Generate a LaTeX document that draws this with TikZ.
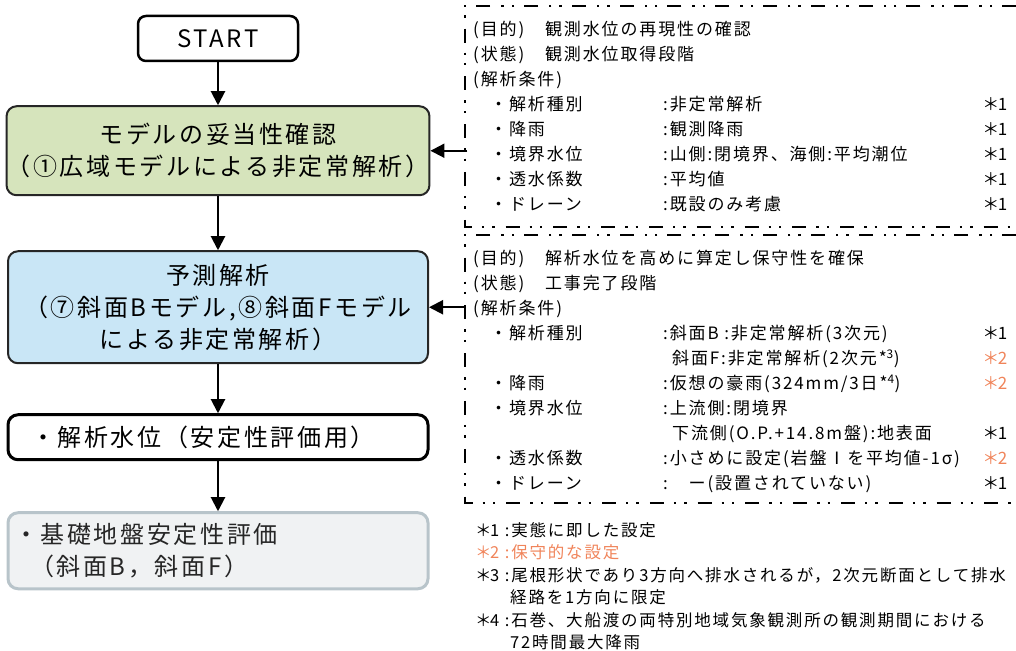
\documentclass[tikz,border=0pt]{standalone}
\usepackage{fontspec}
\setmainfont{Noto Sans CJK JP}[LetterSpace=11]
\usetikzlibrary{positioning,arrows.meta}
\definecolor{fcgreenL}{HTML}{D6E4BC}
\definecolor{fcblueL}{HTML}{C9E6F6}
\definecolor{fcgreyL}{HTML}{F0F2F3}
\definecolor{fcgreyD}{HTML}{B8C4CA}
\definecolor{fcorange}{HTML}{F0845A}
\newcommand\condline[3]{\hspace*{17pt}\makebox[173pt][l]{#1}\makebox[300pt][l]{#2}\hfill#3}
\newcommand\nmark[1]{＊\kern-1.5pt#1}
\newcommand\hmark{{\color{fcorange}\nmark{2}}}

\begin{document}
\begin{tikzpicture}[
      x=1pt, y=1pt,
      font=\fontsize{24}{32}\selectfont,
      flowbox/.style={draw, line width=2pt, rounded corners=10pt, align=center,
                      minimum width=420pt, inner sep=0pt},
      startbox/.style={flowbox, draw=black, fill=white, line width=2.5pt,
                       rounded corners=8pt, minimum width=160pt, minimum height=45pt},
      greenbox/.style={flowbox, draw=black!85, fill=fcgreenL, minimum height=89pt},
      bluebox/.style={flowbox, draw=black!85, fill=fcblueL, minimum height=112pt},
      levelbox/.style={flowbox, line width=3pt, fill=white, minimum height=45pt,
                       text width=374pt, align=left},
      stabbox/.style={flowbox, draw=fcgreyD, line width=3pt, fill=fcgreyL, text=black!85,
                      minimum height=76pt, text width=408pt, align=left},
      info/.style={anchor=north west, inner sep=0pt, text width=534pt, align=left,
                   font=\fontsize{17}{25}\selectfont},
      condframe/.style={line width=2.4pt,
                        dash pattern=on 14pt off 10pt on 2.4pt off 8pt on 2.4pt off 11pt},
      flowarr/.style={-{Triangle[length=14pt,width=14pt]}, line width=2pt}
    ]
    \useasboundingbox (0,0) rectangle (1016,650);

    % flow
    \node[startbox] (start) at (218,611.5) {START};
    \node[greenbox, below=43pt of start] (valid) {モデルの妥当性確認\\（①広域モデルによる非定常解析）};
    \node[bluebox, below=54pt of valid] (pred) {予測解析\\（⑦斜面Bモデル,⑧斜面Fモデル\\による非定常解析）};
    \node[levelbox, below=49pt of pred] (level) {・解析水位（安定性評価用）};
    \node[stabbox, below=50pt of level] (stab) {・基礎地盤安定性評価\\\hspace*{16pt}（斜面B，斜面F）};

    \draw[flowarr] (start) -- (valid);
    \draw[flowarr] (valid) -- (pred);
    \draw[flowarr] (pred) -- (level);
    \draw[flowarr] (level) -- (stab);

    % conditions
    \node[info] (cond1) at (473,632) {\strut(目的)　観測水位の再現性の確認\\
      (状態)　観測水位取得段階\\
      (解析条件)\\
      \condline{・解析種別}{:非定常解析}{\nmark{1}}\\
      \condline{・降雨}{:観測降雨}{\nmark{1}}\\
      \condline{・境界水位}{:山側:閉境界、海側:平均潮位}{\nmark{1}}\\
      \condline{・透水係数}{:平均値}{\nmark{1}}\\
      \condline{・ドレーン}{:既設のみ考慮}{\nmark{1}}};
    \node[info] (cond2) at (473,403) {\strut(目的)　解析水位を高めに算定し保守性を確保\\
      (状態)　工事完了段階\\
      (解析条件)\\
      \condline{・解析種別}{:斜面B :非定常解析(3次元)}{\nmark{1}}\\
      \condline{}{\hspace*{9pt}斜面F:非定常解析(2次元*\textsuperscript{3})}{\hmark}\\
      \condline{・降雨}{:仮想の豪雨(324mm/3日*\textsuperscript{4})}{\hmark}\\
      \condline{・境界水位}{:上流側:閉境界}{}\\
      \condline{}{\hspace*{9pt}下流側(O.P.+14.8m盤):地表面}{\nmark{1}}\\
      \condline{・透水係数}{:小さめに設定(岩盤Ⅰを平均値-1σ)}{\hmark}\\
      \condline{・ドレーン}{:　ー(設置されていない)}{\nmark{1}}};
    \draw[condframe] (1016,644) -| (465,423) -- (1016,423);
    \draw[condframe] (1016,415) -| (465,147) -- (1016,147);

    \coordinate[right=37pt of valid.east] (tap1);
    \coordinate[right=37pt of pred.east] (tap2);
    \draw[flowarr] (tap1) -- (valid.east);
    \draw[flowarr] (tap2) -- (pred.east);

    % notes
    \node[info, text width=541pt, font=\fontsize{16.5}{22.5}\selectfont] (notes) at (475,129.5) {\strut\nmark{1} :実態に即した設定\\
      {\color{fcorange}\nmark{2} :保守的な設定}\\
      \nmark{3} :尾根形状であり3方向へ排水されるが，2次元断面として排水\\
      \hspace*{35pt}経路を1方向に限定\\
      \nmark{4} :石巻、大船渡の両特別地域気象観測所の観測期間における\\
      \hspace*{35pt}72時間最大降雨};
  \end{tikzpicture}
\end{document}
